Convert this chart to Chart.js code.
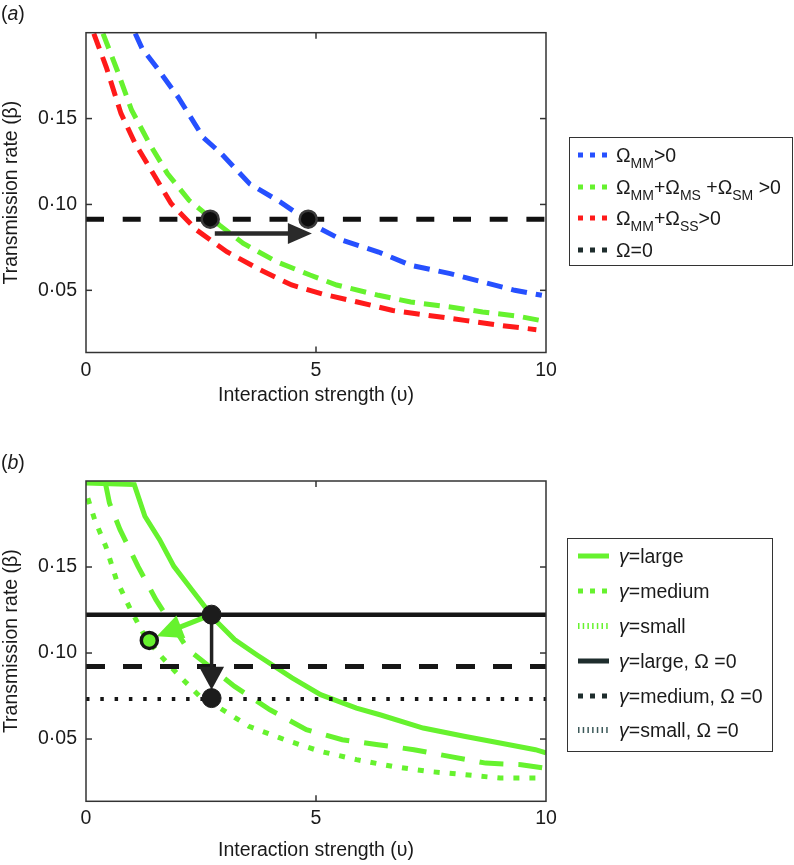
<!DOCTYPE html>
<html><head><meta charset="utf-8">
<script src="https://cdn.jsdelivr.net/npm/chart.js@4.4.1/dist/chart.umd.min.js"></script>
<style>
body{margin:0;background:#fff;width:794px;height:865px;position:relative;overflow:hidden;font-family:'Liberation Sans',Arial,sans-serif;color:#1a1a1a}
canvas{position:absolute;left:0}
.t{position:absolute;height:24px;line-height:24px;font-size:19.5px;white-space:nowrap}
.t sub{font-size:14px;vertical-align:-6px;line-height:0}
.box{position:absolute;border:1.5px solid #333;box-sizing:border-box}
.sw{position:absolute}
</style></head><body>
<canvas id="ca" width="794" height="420" style="top:0"></canvas>
<canvas id="cb" width="794" height="445" style="top:420px"></canvas>

<div class="t" style="left:1px;top:1px">(<i>a</i>)</div>
<div class="t" style="left:1px;top:450px">(<i>b</i>)</div>

<div class="box" style="left:569px;top:137px;width:224px;height:129px"></div>
<svg class="sw" style="left:577px;top:150px" width="34" height="10"><g fill="#2650ff"><rect x="1" y="2.5" width="5" height="5"/><rect x="13" y="2.5" width="5" height="5"/><rect x="25" y="2.5" width="5" height="5"/></g></svg>
<div class="t" style="left:616px;top:143px">Ω<sub>MM</sub>&gt;0</div>
<svg class="sw" style="left:577px;top:182px" width="34" height="10"><g fill="#66f22e"><rect x="1" y="2.5" width="5" height="5"/><rect x="13" y="2.5" width="5" height="5"/><rect x="25" y="2.5" width="5" height="5"/></g></svg>
<div class="t" style="left:616px;top:175px">Ω<sub>MM</sub>+Ω<sub>MS</sub> +Ω<sub>SM</sub> &gt;0</div>
<svg class="sw" style="left:577px;top:213px" width="34" height="10"><g fill="#ff1a1a"><rect x="1" y="2.5" width="5" height="5"/><rect x="13" y="2.5" width="5" height="5"/><rect x="25" y="2.5" width="5" height="5"/></g></svg>
<div class="t" style="left:616px;top:206px">Ω<sub>MM</sub>+Ω<sub>SS</sub>&gt;0</div>
<svg class="sw" style="left:577px;top:245px" width="34" height="10"><g fill="#1e2d2d"><rect x="1" y="2.5" width="5" height="5"/><rect x="13" y="2.5" width="5" height="5"/><rect x="25" y="2.5" width="5" height="5"/></g></svg>
<div class="t" style="left:616px;top:238px">Ω=0</div>

<div class="box" style="left:567px;top:538px;width:206px;height:214px"></div>
<svg class="sw" style="left:577px;top:551px" width="34" height="10"><rect x="1" y="2.5" width="31" height="5" fill="#66f22e"/></svg>
<div class="t" style="left:619px;top:544px"><i>γ</i>=large</div>
<svg class="sw" style="left:577px;top:586px" width="34" height="10"><g fill="#66f22e"><rect x="1" y="2.5" width="5" height="5"/><rect x="13" y="2.5" width="5" height="5"/><rect x="25" y="2.5" width="5" height="5"/></g></svg>
<div class="t" style="left:619px;top:579px"><i>γ</i>=medium</div>
<svg class="sw" style="left:577px;top:621px" width="34" height="10"><g fill="#66f22e"><rect x="1" y="2" width="1.5" height="6"/><rect x="5.7" y="2" width="1.5" height="6"/><rect x="10.4" y="2" width="1.5" height="6"/><rect x="15.1" y="2" width="1.5" height="6"/><rect x="19.8" y="2" width="1.5" height="6"/><rect x="24.5" y="2" width="1.5" height="6"/><rect x="29.2" y="2" width="1.5" height="6"/></g></svg>
<div class="t" style="left:619px;top:614px"><i>γ</i>=small</div>
<svg class="sw" style="left:577px;top:656px" width="34" height="10"><rect x="1" y="2.5" width="31" height="5" fill="#1e2d2d"/></svg>
<div class="t" style="left:619px;top:649px"><i>γ</i>=large, Ω =0</div>
<svg class="sw" style="left:577px;top:691px" width="34" height="10"><g fill="#1e2d2d"><rect x="1" y="2.5" width="5" height="5"/><rect x="13" y="2.5" width="5" height="5"/><rect x="25" y="2.5" width="5" height="5"/></g></svg>
<div class="t" style="left:619px;top:684px"><i>γ</i>=medium, Ω =0</div>
<svg class="sw" style="left:577px;top:725px" width="34" height="10"><g fill="#3d5a5a"><rect x="1" y="2" width="1.5" height="6"/><rect x="5.7" y="2" width="1.5" height="6"/><rect x="10.4" y="2" width="1.5" height="6"/><rect x="15.1" y="2" width="1.5" height="6"/><rect x="19.8" y="2" width="1.5" height="6"/><rect x="24.5" y="2" width="1.5" height="6"/><rect x="29.2" y="2" width="1.5" height="6"/></g></svg>
<div class="t" style="left:619px;top:718px"><i>γ</i>=small, Ω =0</div>

<script>
// ---- shared axes ----
const xTicks = [0, 5, 10];
const yTicks = [0.05, 0.10, 0.15];
const xRange = [0, 10];
const yRange = [0.0138, 0.2];

// ---- panel (a) ----
const blueX = [1.07, 1.22, 1.53, 2.0, 2.55, 2.94, 3.56, 4.22, 5.01, 5.58, 6.36, 7.06, 7.92, 8.62, 9.32, 9.91];
const blueY = [0.1995, 0.1908, 0.180, 0.1626, 0.139, 0.1296, 0.112, 0.1015, 0.087, 0.0791, 0.0723, 0.0646, 0.0597, 0.0549, 0.050, 0.0471];
const greenX = [0.37, 0.68, 0.99, 1.38, 1.77, 2.24, 2.91, 3.42, 4.14, 4.87, 5.45, 6.36, 7.06, 7.92, 8.62, 9.40, 9.87];
const greenY = [0.1995, 0.178, 0.155, 0.1354, 0.118, 0.1024, 0.0878, 0.0773, 0.0667, 0.0589, 0.0531, 0.0471, 0.0432, 0.0403, 0.0374, 0.0349, 0.0325];
const redX = [0.17, 0.44, 0.76, 1.07, 1.46, 1.85, 2.41, 3.06, 3.78, 4.47, 5.16, 5.90, 6.67, 7.45, 8.23, 9.01, 9.79];
const redY = [0.1995, 0.180, 0.153, 0.1354, 0.118, 0.1005, 0.085, 0.0725, 0.0620, 0.0531, 0.0477, 0.0432, 0.0383, 0.0354, 0.0325, 0.0296, 0.0271];
const zeroAX = [0, 10];
const zeroAY = [0.0914, 0.0914];
const dotsAX = [2.70, 4.83];
const dotsAY = [0.0914, 0.0914];
const arrowAX = [2.80, 4.91];
const arrowAY = [0.0831, 0.0831];

// ---- panel (b) ----
const largeX = [0, 1.05, 1.28, 1.60, 1.91, 2.30, 2.80, 3.23, 3.71, 4.48, 5.10, 5.88, 6.39, 7.33, 8.22, 9.0, 9.77, 10];
const largeY = [0.1988, 0.1979, 0.1795, 0.1659, 0.1504, 0.1368, 0.1194, 0.1078, 0.099, 0.0855, 0.0758, 0.068, 0.0641, 0.0564, 0.0516, 0.0477, 0.0438, 0.0419];
const mediumX = [0.42, 0.51, 0.74, 1.13, 1.52, 1.99, 2.22, 3.23, 4.0, 4.79, 5.57, 6.35, 7.13, 7.90, 8.69, 9.46, 9.97];
const mediumY = [0.199, 0.1872, 0.1717, 0.1504, 0.131, 0.1116, 0.102, 0.0806, 0.067, 0.0554, 0.0496, 0.0467, 0.0438, 0.0399, 0.036, 0.0351, 0.0331];
const smallX = [0.04, 0.19, 0.43, 0.66, 0.97, 1.28, 1.60, 2.04, 2.55, 2.91, 3.54, 4.32, 5.10, 5.88, 6.66, 7.44, 8.22, 9.0, 9.97];
const smallY = [0.19, 0.1775, 0.162, 0.1426, 0.1252, 0.1097, 0.099, 0.0864, 0.0728, 0.068, 0.0574, 0.0496, 0.0428, 0.038, 0.0341, 0.0312, 0.0293, 0.0273, 0.0273];
const refX = [0, 10];
const refLargeY = [0.1223, 0.1223];
const refMediumY = [0.0922, 0.0922];
const refSmallY = [0.0733, 0.0733];
const dotsBX = [2.73, 2.73];
const dotsBY = [0.1223, 0.0738];
const openBX = [1.376];
const openBY = [0.1073];
const arrowDownX = [2.73, 2.73];
const arrowDownY = [0.1223, 0.0787];
const arrowLeftX = [2.73, 1.537];
const arrowLeftY = [0.1223, 0.1097];

const FONT = "'Liberation Sans', Arial, sans-serif";
const TXT = '#1a1a1a';
const GREEN = '#66f22e';
const pts = (xs, ys) => xs.map((x, i) => ({x, y: ys[i]}));

function line(ctx, x0, y0, x1, y1) { ctx.beginPath(); ctx.moveTo(x0, y0); ctx.lineTo(x1, y1); ctx.stroke(); }

const framePlugin = {
  id: 'frame',
  afterDraw(chart) {
    const {ctx, chartArea: a, scales} = chart;
    ctx.save();
    ctx.strokeStyle = '#333'; ctx.lineWidth = 1.5;
    xTicks.forEach(v => {
      if (v <= scales.x.min || v >= scales.x.max) return;
      const px = scales.x.getPixelForValue(v);
      line(ctx, px, a.top, px, a.top + 6);
      line(ctx, px, a.bottom, px, a.bottom - 6);
    });
    yTicks.forEach(v => {
      const py = scales.y.getPixelForValue(v);
      line(ctx, a.left, py, a.left + 6, py);
      line(ctx, a.right, py, a.right - 6, py);
    });
    ctx.strokeRect(a.left, a.top, a.right - a.left, a.bottom - a.top);
    ctx.restore();
  }
};

function drawArrow(chart, xs, ys, color, w, hl, hh) {
  const ctx = chart.ctx, sx = chart.scales.x, sy = chart.scales.y;
  const x0 = sx.getPixelForValue(xs[0]), y0 = sy.getPixelForValue(ys[0]);
  const x1 = sx.getPixelForValue(xs[1]), y1 = sy.getPixelForValue(ys[1]);
  const ang = Math.atan2(y1 - y0, x1 - x0);
  const bx = x1 - hl * Math.cos(ang), by = y1 - hl * Math.sin(ang);
  ctx.save();
  ctx.strokeStyle = color; ctx.lineWidth = w;
  line(ctx, x0, y0, bx + Math.cos(ang), by + Math.sin(ang));
  ctx.fillStyle = color;
  ctx.beginPath();
  ctx.moveTo(x1, y1);
  ctx.lineTo(bx + hh * Math.sin(ang), by - hh * Math.cos(ang));
  ctx.lineTo(bx - hh * Math.sin(ang), by + hh * Math.cos(ang));
  ctx.closePath(); ctx.fill();
  ctx.restore();
}

function arrowPlugin(fn) {
  return { id: 'arrows', afterDatasetDraw(chart, args) {
    if (chart.data.datasets[args.index].arrowsAfter) fn(chart);
  }};
}

function scalesCfg(xHeight, titlePadBottom) {
  return {
    x: {
      type: 'linear', min: xRange[0], max: xRange[1],
      afterBuildTicks: s => { s.ticks = xTicks.map(v => ({value: v})); },
      afterFit: s => { s.height = xHeight; },
      grid: {display: false, drawTicks: false}, border: {display: false},
      ticks: {padding: 6, maxRotation: 0, autoSkip: false, color: TXT, font: {family: FONT, size: 19.5}, callback: v => String(v)},
      title: {display: true, text: 'Interaction strength (υ)', color: TXT, font: {family: FONT, size: 19.5}, padding: {top: 0, bottom: titlePadBottom}}
    },
    y: {
      type: 'linear', min: yRange[0], max: yRange[1],
      afterBuildTicks: s => { s.ticks = yTicks.map(v => ({value: v})); },
      afterFit: s => { s.width = 86; },
      grid: {display: false, drawTicks: false}, border: {display: false},
      ticks: {padding: 9, autoSkip: false, color: TXT, font: {family: FONT, size: 19.5}, callback: v => v.toFixed(2).replace('.', '·')},
      title: {display: true, text: 'Transmission rate (β)', color: TXT, font: {family: FONT, size: 19.5}, padding: {top: 0, bottom: 0}}
    }
  };
}

const common = (top, xHeight, tpb) => ({
  responsive: false, devicePixelRatio: 1, animation: false,
  layout: {padding: {left: 0, right: 248, top: top, bottom: 0}},
  plugins: {legend: {display: false}, tooltip: {enabled: false}},
  elements: {line: {tension: 0}},
  scales: scalesCfg(xHeight, tpb)
});

const lineDs = (label, data, color, width, dash, order, extra) => Object.assign({
  label, data, showLine: true, borderColor: color, backgroundColor: color,
  borderWidth: width, borderDash: dash, pointRadius: 0, order, clip: 0, fill: false
}, extra || {});

new Chart(document.getElementById('ca'), {
  type: 'scatter',
  data: { datasets: [
    {label: 'points', data: pts(dotsAX, dotsAY), pointRadius: 8.5, pointBackgroundColor: '#0d0d0d', pointBorderColor: '#3a3a3a', pointBorderWidth: 2.5, showLine: false, order: 0},
    lineDs('Ω=0', pts(zeroAX, zeroAY), '#111', 5, [18, 18.7], 1, {arrowsAfter: true}),
    lineDs('ΩMM>0', pts(blueX, blueY), '#2650ff', 5, [16, 9], 2),
    lineDs('ΩMM+ΩMS+ΩSM>0', pts(greenX, greenY), GREEN, 5, [16, 9], 2),
    lineDs('ΩMM+ΩSS>0', pts(redX, redY), '#ff1a1a', 5, [16, 9], 2)
  ]},
  options: common(32.7, 67.5, 12.3),
  plugins: [framePlugin, arrowPlugin(ch => drawArrow(ch, arrowAX, arrowAY, '#2a2a2a', 4.5, 24, 10.5))]
});

new Chart(document.getElementById('cb'), {
  type: 'scatter',
  data: { datasets: [
    {label: 'points', data: pts(dotsBX, dotsBY), pointRadius: 9.5, pointBackgroundColor: '#1c1c1c', pointBorderColor: '#1c1c1c', pointBorderWidth: 1, showLine: false, order: 0},
    {label: 'open', data: pts(openBX, openBY), pointRadius: 8, pointBackgroundColor: GREEN, pointBorderColor: '#151515', pointBorderWidth: 3.5, showLine: false, order: 0},
    lineDs('γ=large, Ω=0', pts(refX, refLargeY), '#161616', 4.5, [], 1, {arrowsAfter: true}),
    lineDs('γ=medium, Ω=0', pts(refX, refMediumY), '#161616', 5, [19, 18], 1),
    lineDs('γ=small, Ω=0', pts(refX, refSmallY), '#161616', 4, [3.5, 10.8], 1),
    lineDs('γ=large', pts(largeX, largeY), GREEN, 5, [], 2),
    lineDs('γ=medium', pts(mediumX, mediumY), GREEN, 5, [24, 15], 2),
    lineDs('γ=small', pts(smallX, smallY), GREEN, 5, [6, 10], 2)
  ]},
  options: common(61, 63.7, 2.8),
  plugins: [framePlugin, arrowPlugin(ch => {
    drawArrow(ch, arrowLeftX, arrowLeftY, GREEN, 5, 26, 12);
    drawArrow(ch, arrowDownX, arrowDownY, '#222', 3.5, 23, 12.5);
  })]
});
</script>
</body></html>
